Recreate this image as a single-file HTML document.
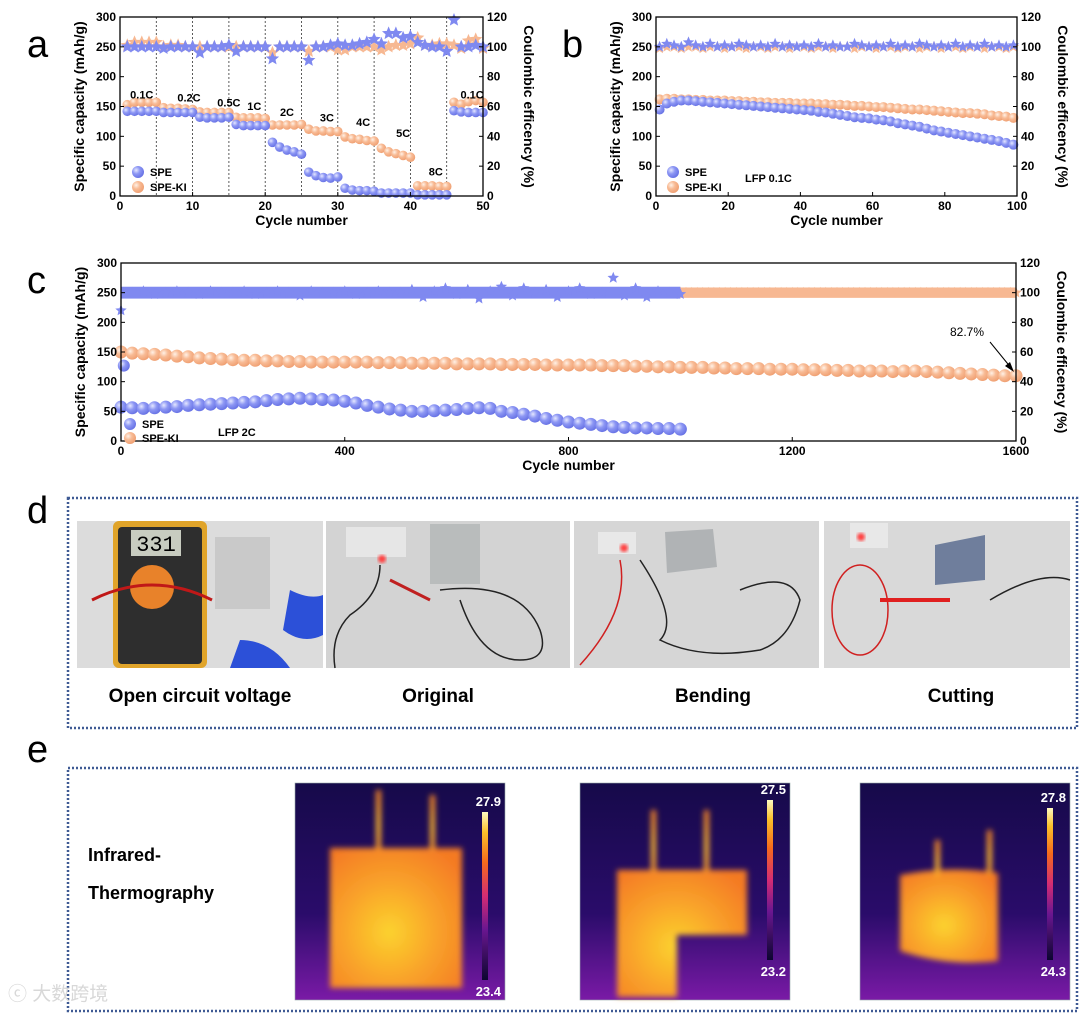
<!DOCTYPE html>
<html><head><meta charset="utf-8">
<style>
html,body{margin:0;padding:0;background:#fff;}
svg{display:block;font-family:"Liberation Sans",Arial,sans-serif;}
</style></head>
<body>
<svg id="fig" width="1080" height="1015" viewBox="0 0 1080 1015" xmlns="http://www.w3.org/2000/svg">
<defs>
<radialGradient id="gB" cx="0.35" cy="0.35" r="0.7"><stop offset="0" stop-color="#e4e7ff"/><stop offset="0.45" stop-color="#8d97f4"/><stop offset="1" stop-color="#6570e4"/></radialGradient>
<radialGradient id="gO" cx="0.35" cy="0.35" r="0.7"><stop offset="0" stop-color="#fff1e6"/><stop offset="0.45" stop-color="#f8bb95"/><stop offset="1" stop-color="#ef9e70"/></radialGradient>
<linearGradient id="cbar" x1="0" y1="1" x2="0" y2="0"><stop offset="0" stop-color="#0c0630"/><stop offset="0.3" stop-color="#6a1690"/><stop offset="0.5" stop-color="#d42c74"/><stop offset="0.7" stop-color="#f56a1c"/><stop offset="0.88" stop-color="#fbc02a"/><stop offset="1" stop-color="#fdfac0"/></linearGradient>
<radialGradient id="hot" cx="0.45" cy="0.6" r="0.7"><stop offset="0" stop-color="#fbd22e"/><stop offset="0.5" stop-color="#f9a32a"/><stop offset="1" stop-color="#f47a24"/></radialGradient>
<linearGradient id="irbg" x1="0" y1="0" x2="0" y2="1"><stop offset="0" stop-color="#160a4a"/><stop offset="0.6" stop-color="#2a0c6a"/><stop offset="1" stop-color="#7a1aa6"/></linearGradient>
<filter id="blur"><feGaussianBlur stdDeviation="3"/></filter>
<filter id="blur2"><feGaussianBlur stdDeviation="1.5"/></filter>
</defs>
<g id="charts"></g>
<g id="photos"></g>
</svg>
<script>
// ---------- Panel a data ----------
const aCycles = Array.from({length:50},(_,i)=>i+1);
const aSPE = [142,142,142,142,142,140,140,140,140,140,132,131,131,131,132,120,118,118,118,118,90,82,77,74,70,40,34,31,30,32,13,10,9,9,8,5,5,5,5,5,2,2,2,2,2,143,141,140,140,140];
const aKI  = [153,157,157,157,157,148,147,147,146,145,141,140,140,140,140,132,131,131,131,130,119,119,119,119,120,112,109,109,108,108,99,96,95,93,92,80,74,71,68,65,17,17,17,16,16,157,154,158,160,157];
const aCE_SPE=[100,100,100,100,100,99,100,100,100,100,96,100,100,100,101,97,100,100,100,100,92,100,100,100,100,91,100,100,101,102,101,101,102,103,105,102,109,109,106,107,103,101,100,100,97,118,100,100,101,100];
const aCE_KI =[101,103,103,103,103,100,101,101,100,100,100,100,100,100,100,100,100,100,100,100,96,100,100,100,100,97,100,100,100,98,98,100,100,100,100,98,100,101,101,102,106,101,101,102,102,101,99,104,105,99];
const aRates=["0.1C","0.2C","0.5C","1C","2C","3C","4C","5C","8C","0.1C"];
const aRateX=[3,9.5,15,18.5,23,28.5,33.5,39,43.5,48.5];
const aRateY=[163,158,150,144,134,125,117,99,34,163];
// ---------- Panel b data ----------
const bCycles = Array.from({length:50},(_,i)=>2*i+1);
const bSPE=[145,155,158,160,160,159,158,157,156,155,154,153,152,151,150,149,148,147,146,145,144,143,141,140,138,136,134,132,131,130,128,127,125,122,120,118,116,113,110,108,106,104,102,100,98,96,94,92,89,86];
const bKI=[162,163,163,162,162,161,161,160,160,160,159,159,158,158,157,157,156,156,156,155,155,155,154,154,153,153,152,151,151,150,149,149,148,147,146,145,145,144,143,142,141,140,139,139,138,137,135,134,133,131];
const bCE_SPE=[100,102,101,100,103,101,100,102,100,101,100,102,101,100,101,100,102,100,101,100,101,100,102,100,101,100,100,102,101,100,101,100,102,100,101,100,102,101,100,101,100,102,100,101,100,102,100,101,100,101];
const bCE_KI=[99,100,100,99,100,100,99,100,100,99,100,100,99,100,100,99,100,100,99,100,100,99,100,100,99,100,100,99,100,100,99,100,100,99,100,100,99,100,100,99,100,100,99,100,100,99,100,100,99,100];
// ---------- Panel c data ----------
const cCyclesSPE = Array.from({length:51},(_,i)=>i*20);
const cSPE=[57,56,55,56,57,58,60,61,62,63,64,65,66,68,70,71,72,71,70,69,67,64,60,57,54,52,50,50,51,52,53,55,56,55,50,48,45,42,38,35,32,30,28,26,24,23,22,22,21,21,20];
const cCyclesKI = Array.from({length:81},(_,i)=>i*20);
const cKI=[150,148,147,146,145,143,142,140,139,138,137,136,136,135,135,134,134,133,133,133,133,133,133,132,132,132,131,131,131,131,130,130,130,130,129,129,129,129,128,128,128,128,128,127,127,127,126,126,125,125,124,124,124,123,123,122,122,122,121,121,121,120,120,120,119,119,118,118,118,117,118,118,117,116,115,114,113,112,111,110,110];
const cCE_SPE=[88,100,101,99,100,101,100,99,101,100,100,101,99,100,101,100,98,101,100,100,101,99,100,101,100,100,102,97,101,103,99,102,96,101,104,98,103,100,102,97,101,103,99,100,110,98,103,97,101,100,99];
const cCyclesCEKI = Array.from({length:61},(_,i)=>i*10+1000);
const cCE_KI=Array.from({length:61},()=>100);
const yTicks=[0,50,100,150,200,250,300];
const y2Ticks=[0,20,40,60,80,100,120];

const NS="http://www.w3.org/2000/svg";
const charts=document.getElementById('charts');
function el(tag,attrs,parent,text){const e=document.createElementNS(NS,tag);for(const k in attrs)e.setAttribute(k,attrs[k]);if(text!==undefined)e.textContent=text;(parent||charts).appendChild(e);return e;}
function starPts(cx,cy,r){let p=[];for(let i=0;i<10;i++){const a=-Math.PI/2+i*Math.PI/5;const rr=i%2?r*0.45:r;p.push((cx+rr*Math.cos(a)).toFixed(1)+','+(cy+rr*Math.sin(a)).toFixed(1));}return p.join(' ');}

function makeAxes(g,cfg){
  const {x0,x1,y0,y1,xmax}=cfg;
  const sx=v=>x0+(v/xmax)*(x1-x0);
  const sy=v=>y1-(v/300)*(y1-y0);
  const sy2=v=>y1-(v/120)*(y1-y0);
  return {sx,sy,sy2};
}
function drawFrame(g,cfg,ax,name){
  const {x0,x1,y0,y1,xticks}=cfg;
  const fr=el('rect',{x:x0,y:y0,width:x1-x0,height:y1-y0,fill:'none',stroke:'#000','stroke-width':1.3},g);
  
  const fs=cfg.fs||12;
  yTicks.forEach(v=>{const y=ax.sy(v);el('line',{x1:x0,y1:y,x2:x0+4,y2:y,stroke:'#000'},g);
    const t=el('text',{x:x0-4,y:y+4,'text-anchor':'end','font-size':fs,'font-weight':'bold'},g,v);});
  y2Ticks.forEach(v=>{const y=ax.sy2(v);el('line',{x1:x1,y1:y,x2:x1-4,y2:y,stroke:'#000'},g);
    const t=el('text',{x:x1+4,y:y+4,'text-anchor':'start','font-size':fs,'font-weight':'bold'},g,v);});
  xticks.forEach(v=>{const x=ax.sx(v);el('line',{x1:x,y1:y1,x2:x,y2:y1-4,stroke:'#000'},g);
    const t=el('text',{x:x,y:y1+14,'text-anchor':'middle','font-size':fs,'font-weight':'bold'},g,v);});
  const xt=el('text',{x:(x0+x1)/2,y:y1+29,'text-anchor':'middle','font-size':14,'font-weight':'bold'},g,'Cycle number');
  
  const yt=el('text',{x:0,y:0,transform:`translate(${x0-36},${(y0+y1)/2}) rotate(-90)`,'text-anchor':'middle','font-size':14,'font-weight':'bold'},g,'Specific capacity (mAh/g)');
  
  const y2=el('text',{x:0,y:0,transform:`translate(${x1+41},${(y0+y1)/2}) rotate(90)`,'text-anchor':'middle','font-size':14,'font-weight':'bold'},g,'Coulombic efficency (%)');
  
}
function circles(g,ax,xs,ys,fill,r,name){xs.forEach((x,i)=>{const c=el('circle',{cx:ax.sx(x),cy:ax.sy(ys[i]),r:r,fill:fill},g);});}
function stars(g,ax,xs,ys,fill,r,name){xs.forEach((x,i)=>{const s=el('polygon',{points:starPts(ax.sx(x),ax.sy2(ys[i]),r),fill:fill},g);});}
function letter(t,x,y){const e=el('text',{x:x,y:y,'font-size':38},charts,t);}
function legend(g,x,y1,y2,fs){
  const a=el('circle',{cx:x,cy:y1,r:6,fill:'url(#gB)'},g);
  const b=el('circle',{cx:x,cy:y2,r:6,fill:'url(#gO)'},g);
  const t1=el('text',{x:x+12,y:y1+4,'font-size':fs,'font-weight':'bold'},g,'SPE');
  const t2=el('text',{x:x+12,y:y2+4,'font-size':fs,'font-weight':'bold'},g,'SPE-KI');
}

// ---- Panel a ----
letter('a',27,57);
const ga=el('g',{});
const cfgA={x0:120,x1:483,y0:17,y1:196,xmax:50,xticks:[0,10,20,30,40,50]};
const axA=makeAxes(ga,cfgA);
for(let k=5;k<50;k+=5){const l=el('line',{x1:axA.sx(k),y1:17,x2:axA.sx(k),y2:196,stroke:'#333','stroke-dasharray':'2,2','stroke-width':0.8},ga);}
stars(ga,axA,aCycles,aCE_KI,'#f7b892',7,'ce-star-spe-ki');
stars(ga,axA,aCycles,aCE_SPE,'#7f89f0',7,'ce-star-spe');
circles(ga,axA,aCycles,aKI,'url(#gO)',4.8,'capacity-point-spe-ki');
circles(ga,axA,aCycles,aSPE,'url(#gB)',4.8,'capacity-point-spe');
aRates.forEach((r,i)=>{const t=el('text',{x:axA.sx(aRateX[i]),y:axA.sy(aRateY[i]),'text-anchor':'middle','font-size':11,'font-weight':'bold'},ga,r);});
drawFrame(ga,cfgA,axA,'panel-a');
legend(ga,138,172,187,11);

// ---- Panel b ----
letter('b',562,57);
const gb=el('g',{});
const cfgB={x0:656,x1:1017,y0:17,y1:196,xmax:100,xticks:[0,20,40,60,80,100]};
const axB=makeAxes(gb,cfgB);
stars(gb,axB,bCycles,bCE_KI,'#f7b892',6,'ce-star-spe-ki');
stars(gb,axB,bCycles,bCE_SPE,'#7f89f0',6,'ce-star-spe');
circles(gb,axB,bCycles,bKI,'url(#gO)',5,'capacity-point-spe-ki');
circles(gb,axB,bCycles,bSPE,'url(#gB)',5,'capacity-point-spe');
drawFrame(gb,cfgB,axB,'panel-b');
legend(gb,673,172,187,11);
{const t=el('text',{x:745,y:182,'font-size':11,'font-weight':'bold'},gb,'LFP 0.1C');}

// ---- Panel c ----
letter('c',27,293);
const gc=el('g',{});
const cfgC={x0:121,x1:1016,y0:263,y1:441,xmax:1600,xticks:[0,400,800,1200,1600]};
const axC=makeAxes(gc,cfgC);
{const b=el('rect',{x:axC.sx(0),y:axC.sy2(103.5),width:axC.sx(1600)-axC.sx(0),height:axC.sy2(96.5)-axC.sy2(103.5),fill:'#f7b892'},gc);}
stars(gc,axC,cCyclesCEKI,cCE_KI,'#f7b892',6,'ce-star-spe-ki');
{const b=el('rect',{x:axC.sx(0),y:axC.sy2(104),width:axC.sx(1000)-axC.sx(0),height:axC.sy2(96)-axC.sy2(104),fill:'#7f89f0'},gc);}
stars(gc,axC,cCyclesSPE,cCE_SPE,'#7f89f0',6,'ce-star-spe');
circles(gc,axC,cCyclesKI,cKI,'url(#gO)',6.5,'capacity-point-spe-ki');
circles(gc,axC,cCyclesSPE,cSPE,'url(#gB)',6.5,'capacity-point-spe');
{const c=el('circle',{cx:axC.sx(5),cy:axC.sy(127),r:6,fill:'url(#gB)'},gc);}
drawFrame(gc,cfgC,axC,'panel-c');
legend(gc,130,424,438,11);
{const t=el('text',{x:218,y:436,'font-size':11,'font-weight':'bold'},gc,'LFP 2C');
 const p=el('text',{x:950,y:336,'font-size':12},gc,'82.7%');
 const a=el('line',{x1:990,y1:342,x2:1012,y2:369,stroke:'#000','stroke-width':1},gc);
 el('polygon',{points:'1014,372 1005,366 1010,362',fill:'#000'},gc);}

// ---- Panel d & e ----
const ph=document.getElementById('photos');
function P(tag,attrs,text,name){const e=el(tag,attrs,ph,text);if(name){}return e;}
letter('d',27,523);
letter('e',27,762);
P('rect',{x:68,y:498,width:1009,height:230,fill:'none',stroke:'#3f5a94','stroke-width':2.5,'stroke-dasharray':'2,2'},undefined,'panel-d-box');
P('rect',{x:68,y:768,width:1009,height:243,fill:'none',stroke:'#3f5a94','stroke-width':2.5,'stroke-dasharray':'2,2'},undefined,'panel-e-box');
// photo 1
P('rect',{x:77,y:521,width:246,height:147,fill:'#dcdcdc'},undefined,'photo-open-circuit-voltage');
P('rect',{x:113,y:521,width:94,height:147,rx:6,fill:'#e0a42a'},undefined,'multimeter');
P('rect',{x:118,y:527,width:84,height:137,rx:4,fill:'#2e2e2e'});
P('rect',{x:131,y:530,width:50,height:26,fill:'#c8ccc0'});
P('text',{x:156,y:551,'text-anchor':'middle','font-size':22,'font-family':'Liberation Mono'},'331');
P('circle',{cx:152,cy:587,r:22,fill:'#e8822a'});
P('rect',{x:215,y:537,width:55,height:72,fill:'#c9c9c9'},undefined,'battery-pouch');
P('path',{d:'M290,590 q20,10 33,5 v40 q-20,10 -40,-5z',fill:'#2c50d8'});
P('path',{d:'M240,640 q30,0 50,28 h-60z',fill:'#2c50d8'});
P('path',{d:'M92,600 q60,-30 120,0',stroke:'#c01818','stroke-width':3,fill:'none'});
// photo 2
P('rect',{x:326,y:521,width:244,height:147,fill:'#d3d3d3'},undefined,'photo-original');
P('rect',{x:346,y:527,width:60,height:30,fill:'#e6e6e6'});
P('rect',{x:430,y:524,width:50,height:60,fill:'#b9bcbc'},undefined,'battery-pouch');
P('circle',{cx:382,cy:559,r:4,fill:'#ff4040',filter:'url(#blur2)'});
P('path',{d:'M380,565 q0,30 -30,50 q-20,20 -15,53',stroke:'#222','stroke-width':1.5,fill:'none'});
P('path',{d:'M440,590 q80,-10 100,40 q10,30 -20,30 q-40,0 -60,-60',stroke:'#222','stroke-width':1.5,fill:'none'});
P('path',{d:'M390,580 l40,20',stroke:'#c02020','stroke-width':3});
// photo 3
P('rect',{x:574,y:521,width:245,height:147,fill:'#d6d6d6'},undefined,'photo-bending');
P('rect',{x:598,y:532,width:38,height:22,fill:'#e8e8e8'});
P('path',{d:'M665,532 l48,-3 l4,38 l-50,6z',fill:'#b0b3b5'},undefined,'battery-pouch');
P('circle',{cx:624,cy:548,r:4,fill:'#ff4040',filter:'url(#blur2)'});
P('path',{d:'M620,560 q10,50 -40,105',stroke:'#d02020','stroke-width':1.5,fill:'none'});
P('path',{d:'M640,560 q40,60 20,80 q40,20 100,10 q30,-10 40,-50 q-10,-30 -60,-10',stroke:'#222','stroke-width':1.5,fill:'none'});
// photo 4
P('rect',{x:824,y:521,width:246,height:147,fill:'#d9d9d9'},undefined,'photo-cutting');
P('rect',{x:850,y:523,width:38,height:25,fill:'#e8e8e8'});
P('path',{d:'M935,545 l50,-10 l0,45 l-50,5z',fill:'#6f7e9c'},undefined,'battery-pouch');
P('circle',{cx:861,cy:537,r:4,fill:'#ff4040',filter:'url(#blur2)'});
P('ellipse',{cx:860,cy:610,rx:28,ry:45,stroke:'#d02020','stroke-width':1.5,fill:'none'});
P('path',{d:'M880,600 l70,0',stroke:'#e02020','stroke-width':4});
P('path',{d:'M990,600 q50,-30 80,-20',stroke:'#222','stroke-width':1.5,fill:'none'});
const labels=[['Open circuit voltage',200],['Original',438],['Bending',713],['Cutting',961]];
labels.forEach(l=>P('text',{x:l[1],y:702,'text-anchor':'middle','font-size':19,'font-weight':'bold'},l[0],'photo-caption'));
// IR
P('text',{x:88,y:861,'font-size':18,'font-weight':'bold'},'Infrared-','ir-label');
P('text',{x:88,y:899,'font-size':18,'font-weight':'bold'},'Thermography','ir-label');
function ir(x,shape,top,bot,barTop,barBot,name){
  P('rect',{x:x,y:783,width:210,height:217,fill:'url(#irbg)',stroke:'#9aa',"stroke-width":0.6},undefined,name);
  const g=P('g',{filter:'url(#blur)'});
  shape.forEach(s=>{el('path',{d:s,fill:'url(#hot)'},g);});
  P('rect',{x:x+187,y:barTop,width:6,height:barBot-barTop,fill:'url(#cbar)'},undefined,'colorbar');
  P('text',{x:x+206,y:barTop-6,'text-anchor':'end','font-size':13,'font-weight':'bold',fill:'#fff'},top,'colorbar-max');
  P('text',{x:x+206,y:barBot+16,'text-anchor':'end','font-size':13,'font-weight':'bold',fill:'#fff'},bot,'colorbar-min');
}
ir(295,['M330,848 h132 v140 h-132z','M376,790 h5 v60 h-5z','M430,795 h5 v55 h-5z'],'27.9','23.4',812,980,'ir-image-original');
ir(580,['M617,870 h130 v65 h-70 v62 h-60z','M651,810 h5 v62 h-5z','M704,810 h5 v62 h-5z'],'27.5','23.2',800,960,'ir-image-bending');
ir(860,['M900,875 q50,-10 98,-2 v88 q-50,6 -98,-10z','M935,840 h5 v40 h-5z','M987,830 h5 v45 h-5z'],'27.8','24.3',808,960,'ir-image-cutting');
P('text',{x:8,y:1000,'font-size':19,fill:'#d8d8d8','font-family':'"Liberation Sans","Noto Sans CJK SC",sans-serif'},'ⓒ 大数跨境','watermark');
</script>
</body></html>
